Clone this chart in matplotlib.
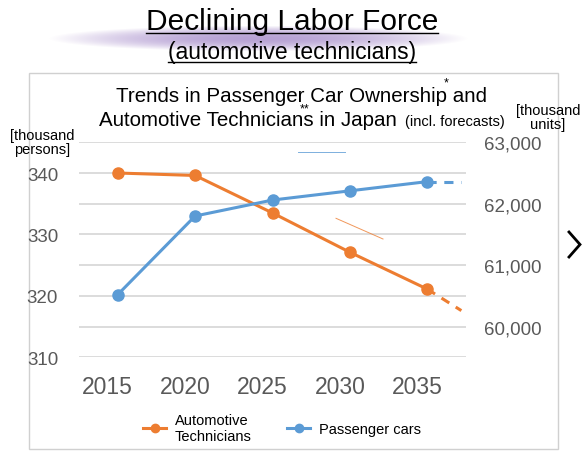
import numpy as np
import matplotlib.pyplot as plt
from matplotlib.lines import Line2D
from matplotlib.patches import Rectangle
from matplotlib.transforms import ScaledTranslation

plt.rcParams['font.family'] = ['Liberation Sans', 'DejaVu Sans']

years = [2015, 2020, 2025, 2030, 2035]
technicians = [340.0, 339.6, 333.5, 327.1, 321.1]       # thousand persons
cars = [60520, 61800, 62060, 62210, 62360]              # thousand units
forecast_year = 2037.2
technicians_fc = 317.6
cars_fc = 62360

left_ticks = [310, 320, 330, 340]
right_ticks = [60000, 61000, 62000, 63000]

ORANGE = '#ED7D31'
BLUE = '#5B9BD5'
GRID = '#d9d9d9'
TICK = '#595959'

W, H = 583, 452
fig = plt.figure(figsize=(W / 100, H / 100), dpi=100)

def fx(px):
    return px / W

def fy(py):
    return 1 - py / H

# lavender glow behind the heading
bg = fig.add_axes([0, 0, 1, 1], zorder=-5)
bg.set_axis_off()
xx, yy = np.meshgrid(np.arange(W), np.arange(H))
r2 = ((xx - 258) / 210.0) ** 2 + ((yy - 39) / 13.0) ** 2
alpha = np.clip(1 - r2, 0, 1) ** 1.1 * 0.85
img = np.zeros((H, W, 4))
img[..., 0] = 170 / 255
img[..., 1] = 145 / 255
img[..., 2] = 205 / 255
img[..., 3] = alpha
bg.imshow(img, extent=[0, W, H, 0], aspect='auto')
bg.set_xlim(0, W)
bg.set_ylim(H, 0)

# panel frame
fig.add_artist(Rectangle((fx(29), fy(450)), fx(558) - fx(29), fy(74) - fy(450),
                         transform=fig.transFigure, facecolor='white',
                         edgecolor='#d0d0d0', lw=1.0, zorder=-4))

ax = fig.add_axes([fx(79), fy(358.3), fx(466) - fx(79), fy(143.3) - fy(358.3)])
ax2 = ax.twinx()

ax.set_xlim(2012.5, 2037.5)
ax.set_ylim(310, 345)
ax2.set_ylim(59500, 63000)

ax.set_yticks(left_ticks)
ax.set_yticks(np.arange(315, 346, 10), minor=True)
ax.grid(True, axis='y', which='both', color=GRID, lw=1.3)
ax.set_axisbelow(True)

ax.plot(years, technicians, color=ORANGE, lw=2.2, marker='o', ms=8, zorder=3)
ax.plot([years[-1], forecast_year], [technicians[-1], technicians_fc],
        color=ORANGE, lw=2.2, ls=(0, (3, 2.5)), zorder=2)
ax2.plot(years, cars, color=BLUE, lw=2.2, marker='o', ms=8, zorder=3)
ax2.plot([years[-1], forecast_year], [cars[-1], cars_fc],
         color=BLUE, lw=2.2, ls=(0, (3, 2.5)), zorder=2)

ax2.set_yticks(right_ticks)
ax2.set_yticklabels([f"{v:,}" for v in right_ticks])

ax.set_xticks(years)
ax.set_xticklabels([str(y) for y in years])

ax.tick_params(axis='x', length=0, labelsize=16.5, labelcolor=TICK, pad=13)
ax.tick_params(axis='y', which='both', length=0, labelsize=13.5, labelcolor=TICK, pad=15)
ax2.tick_params(axis='y', length=0, labelsize=13.5, labelcolor=TICK, pad=13)
for a in (ax, ax2):
    for s in a.spines.values():
        s.set_visible(False)
ax.patch.set_alpha(0)

# year labels sit a little left of their points
shift = ScaledTranslation(-10 / 100, 0, fig.dpi_scale_trans)
for tick in ax.xaxis.get_major_ticks():
    tick.label1.set_transform(tick.label1.get_transform() + shift)

# faint trend strokes left on the slide
fig.add_artist(Line2D([fx(298), fx(345)], [fy(153.3), fy(153.3)],
                      transform=fig.transFigure, color=BLUE, lw=0.7, alpha=0.8))
fig.add_artist(Line2D([fx(336), fx(383)], [fy(219.3), fy(240)],
                      transform=fig.transFigure, color=ORANGE, lw=0.7, alpha=0.8))

# headings
t1 = fig.text(fx(292), fy(22), "Declining Labor Force", ha='center', va='center', fontsize=21.5)
t2 = fig.text(fx(292), fy(53), "(automotive technicians)", ha='center', va='center', fontsize=16.5)

fig.text(fx(302), fy(96), "Trends in Passenger Car Ownership and", ha='center', va='center',
         fontsize=14.8)
fig.text(fx(99), fy(121), "Automotive Technicians in Japan", ha='left', va='center',
         fontsize=14.8)
fig.text(fx(505), fy(122), "(incl. forecasts)", ha='right', va='center', fontsize=10.5)
fig.text(fx(446), fy(83), "*", ha='center', va='center', fontsize=9)
fig.text(fx(305), fy(109), "**", ha='center', va='center', fontsize=9)

fig.text(fx(42), fy(143), "[thousand\npersons]", ha='center', va='center', fontsize=10.5,
         linespacing=1.0)
fig.text(fx(548), fy(118), "[thousand\nunits]", ha='center', va='center', fontsize=10.5,
         linespacing=1.0)

# legend
ax.legend(handles=[Line2D([], [], color=ORANGE, lw=2.2, marker='o', ms=6),
                   Line2D([], [], color=BLUE, lw=2.2, marker='o', ms=6)],
          labels=["Automotive\nTechnicians", "Passenger cars"],
          loc='center', bbox_to_anchor=(fx(282), fy(429)), bbox_transform=fig.transFigure,
          ncol=2, frameon=False, fontsize=10.5, handlelength=1.6, handletextpad=0.6,
          columnspacing=2.4)

# chevron on the right edge
fig.add_artist(Line2D([fx(569), fx(580), fx(569)], [fy(233), fy(245.5), fy(258)],
                      transform=fig.transFigure, color='black', lw=2.0,
                      solid_joinstyle='miter'))

# underline the headings
fig.canvas.draw()
renderer = fig.canvas.get_renderer()
for t, off in ((t1, 2), (t2, 2)):
    bb = t.get_window_extent(renderer)
    y = bb.y0 + off
    fig.add_artist(Line2D([bb.x0 / W, bb.x1 / W], [y / H, y / H],
                          transform=fig.transFigure, color='black', lw=1.0))

fig.savefig("out.png", dpi=100)
